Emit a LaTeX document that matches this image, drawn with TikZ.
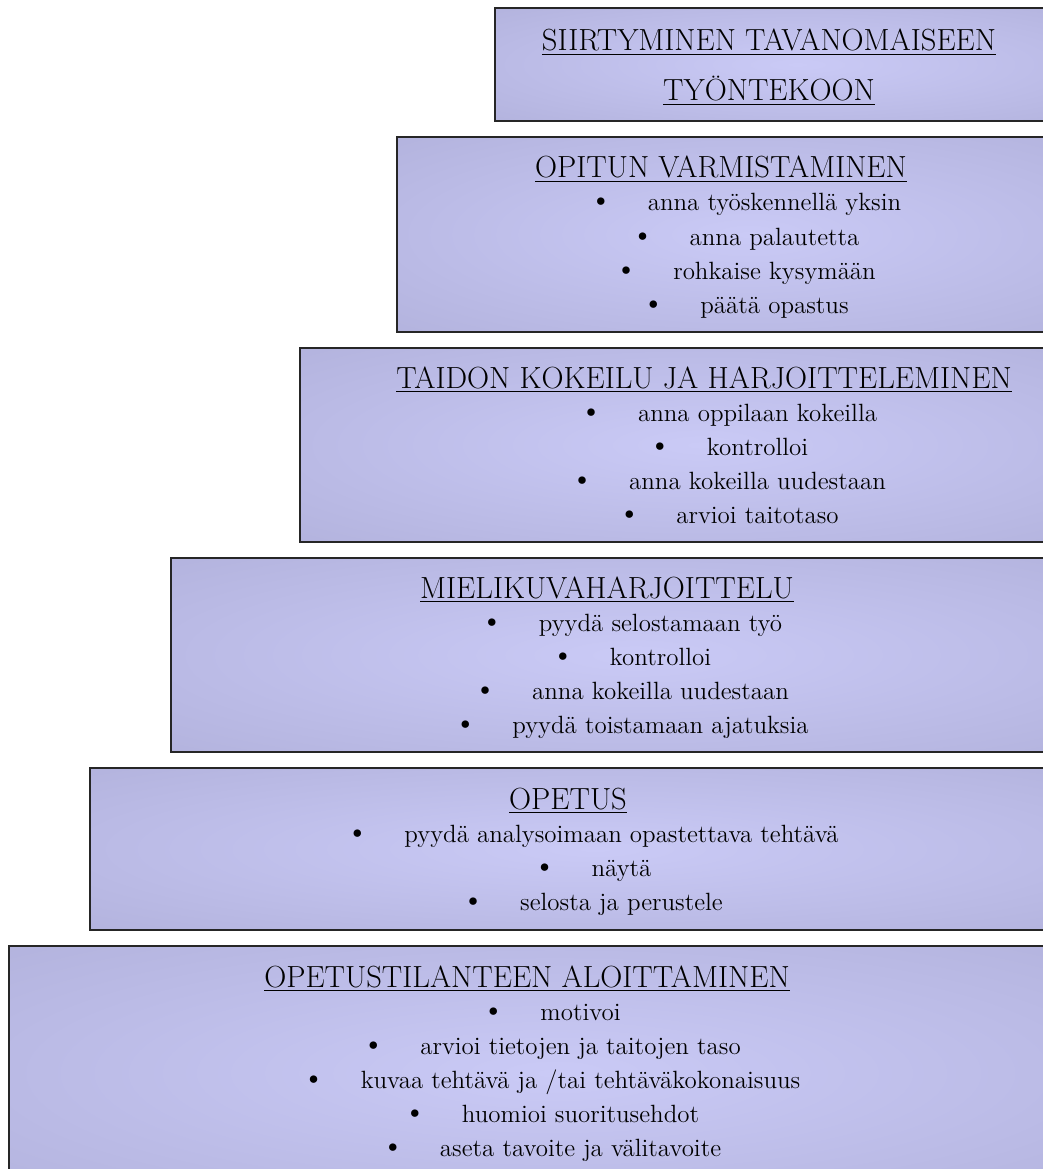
\documentclass[tikz,border=0pt]{standalone}
\usepackage{fontspec}
\definecolor{boxlight}{RGB}{202,202,246}
\definecolor{boxdark}{RGB}{170,170,212}
\pgfdeclareradialshading{boxglow}{\pgfpoint{0bp}{0bp}}{color(0bp)=(boxlight); color(50bp)=(boxdark)}
\newcommand{\dotmark}{{\fontsize{19}{19}\selectfont\textbullet}}

\begin{document}
\begin{tikzpicture}[
  x=0.02cm, y=-0.02cm,
  stepbox/.style={draw=black!85, line width=1.3pt, shading=boxglow},
  headline/.style={font=\fontsize{17.4}{20}\selectfont, anchor=base, inner sep=0pt},
  item/.style={font=\fontsize{14.2}{17}\selectfont, anchor=base, inner sep=0pt}
]
\useasboundingbox (0,0) rectangle (1043,1169);
\clip (0,0) rectangle (1043,1169);

% top step
\draw[stepbox] (495,8) rectangle (1100,121);
\node[headline] (siirtyminen) at (769,51) {\underline{SIIRTYMINEN TAVANOMAISEEN}};
\node[headline] (tyontekoon) at (769,101) {\underline{TYÖNTEKOON}};

\draw[stepbox] (397,137) rectangle (1100,332);
\node[headline] (varmistaminen) at (721,178) {\underline{OPITUN VARMISTAMINEN}};
\foreach \txt [count=\i] in {anna työskennellä yksin, anna palautetta, rohkaise kysymään, päätä opastus}
  \node[item] (varmistaminen-\i) at (745,{177+34*\i}) {\dotmark\hspace{0.7cm}\txt};

\draw[stepbox] (300,348) rectangle (1100,542);
\node[headline] (kokeilu) at (704,388) {\underline{TAIDON KOKEILU JA HARJOITTELEMINEN}};
\foreach \txt [count=\i] in {anna oppilaan kokeilla, kontrolloi, anna kokeilla uudestaan, arvioi taitotaso}
  \node[item] (kokeilu-\i) at (728,{387+34*\i}) {\dotmark\hspace{0.7cm}\txt};

\draw[stepbox] (171,558) rectangle (1100,752);
\node[headline] (mielikuva) at (607,598) {\underline{MIELIKUVAHARJOITTELU}};
\foreach \txt [count=\i] in {pyydä selostamaan työ, kontrolloi, anna kokeilla uudestaan, pyydä toistamaan ajatuksia}
  \node[item] (mielikuva-\i) at (631,{597+34*\i}) {\dotmark\hspace{0.7cm}\txt};

\draw[stepbox] (90,768) rectangle (1100,930);
\node[headline] (opetus) at (568,809) {\underline{OPETUS}};
\foreach \txt [count=\i] in {pyydä analysoimaan opastettava tehtävä, näytä, selosta ja perustele}
  \node[item] (opetus-\i) at (592,{808+34*\i}) {\dotmark\hspace{0.7cm}\txt};

% bottom step
\draw[stepbox] (9,946) rectangle (1100,1200);
\node[headline] (aloittaminen) at (527,987) {\underline{OPETUSTILANTEEN ALOITTAMINEN}};
\foreach \txt [count=\i] in {motivoi, arvioi tietojen ja taitojen taso, kuvaa tehtävä ja /tai tehtäväkokonaisuus, huomioi suoritusehdot, aseta tavoite ja välitavoite}
  \node[item] (aloittaminen-\i) at (551,{986+34*\i}) {\dotmark\hspace{0.7cm}\txt};
\end{tikzpicture}
\end{document}
